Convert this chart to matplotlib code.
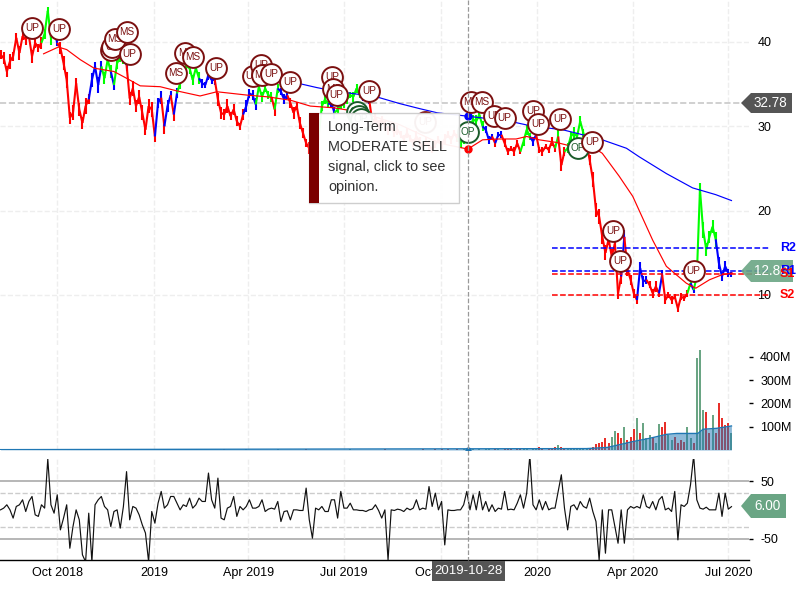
import numpy as np
import pandas as pd
import matplotlib
matplotlib.use('Agg')
import matplotlib.pyplot as plt
import matplotlib.dates as mdates
from matplotlib.patches import Polygon, Rectangle

plt.rcParams['font.family'] = ['Liberation Sans', 'DejaVu Sans']
plt.rcParams['axes.unicode_minus'] = False

START = pd.Timestamp('2018-08-08')

# one close every three calendar days
close = [
    38.5, 38.1, 36.5, 37.7, 38.3, 40.5, 38.7, 40.7, 40.3, 40.7,
    38.3, 39.9, 39.3, 39.9, 41.0, 43.7, 40.5, 41.5, 39.9, 39.3,
    37.5, 35.5, 31.0, 31.6, 35.1, 32.0, 30.4, 32.4, 33.2, 35.5,
    37.1, 34.9, 37.1, 35.7, 37.9, 36.5, 34.9, 37.5, 38.1, 38.0,
    37.3, 33.3, 34.5, 32.4, 33.5, 31.6, 29.6, 32.4, 32.0, 28.8,
    32.8, 33.4, 30.0, 32.4, 33.7, 31.4, 33.9, 35.1, 36.3, 37.1,
    36.9, 35.5, 36.9, 35.7, 35.1, 34.9, 36.1, 35.5, 35.5, 33.2,
    31.6, 31.4, 32.4, 31.2, 32.0, 30.6, 30.0, 31.4, 32.4, 33.9,
    33.7, 32.6, 34.7, 33.5, 34.5, 33.7, 33.5, 32.0, 34.5, 34.1,
    33.2, 33.7, 32.8, 31.6, 32.4, 30.4, 29.2, 28.0, 27.4, 26.8,
    28.0, 29.0, 32.4, 33.2, 32.6, 32.8, 31.6, 32.0, 32.4, 32.8,
    33.2, 33.7, 33.5, 34.5, 33.7, 33.5, 33.7, 33.2, 30.5, 31.0,
    30.2, 30.8, 30.0, 29.5, 30.0, 29.2, 29.6, 29.0, 28.5, 29.2,
    28.6, 28.0, 28.8, 28.2, 27.5, 28.2, 27.8, 27.2, 27.9, 28.4,
    27.8, 28.5, 29.0, 28.4, 29.2, 28.6, 28.0, 28.4, 29.0, 30.0,
    30.8, 30.6, 31.4, 30.0, 29.6, 28.4, 28.8, 28.0, 29.0, 29.0,
    28.0, 27.0, 27.4, 27.0, 28.0, 27.0, 28.2, 29.6, 28.8, 28.2,
    29.0, 27.2, 27.0, 27.6, 27.2, 28.2, 27.4, 28.8, 25.4, 27.0,
    27.4, 28.8, 29.2, 28.8, 30.6, 29.2, 28.0, 26.0, 23.7, 20.1,
    19.3, 16.9, 15.0, 16.6, 14.6, 16.1, 10.2, 12.2, 16.9, 13.0,
    11.8, 10.2, 9.4, 13.2, 11.6, 11.8, 11.2, 10.2, 11.0, 10.2,
    12.4, 9.4, 10.0, 9.4, 9.8, 8.4, 9.8, 9.6, 10.2, 11.4,
    10.6, 12.2, 22.5, 17.7, 15.4, 16.9, 18.1, 16.6, 13.8, 12.2,
    13.4, 12.6, 12.4,
]
# half of each bar's high-low range, read by eye
bar_swing = [
    0.5, 0.7, 0.6, 0.9, 0.5, 0.6, 0.8, 0.5, 0.7, 0.4,
    0.8, 0.6, 0.5, 0.7, 0.6, 0.5, 0.9, 0.6, 0.4, 0.7,
    0.8, 0.9, 0.7, 0.9, 0.6, 0.8, 0.7, 0.9, 0.6, 0.8,
    0.5, 0.9, 0.6, 0.7, 0.5, 0.8, 0.6, 0.7, 0.5, 0.6,
    0.7, 0.8, 0.9, 0.7, 0.8, 0.9, 0.6, 0.8, 0.9, 0.7,
    0.6, 0.8, 0.9, 0.7, 0.5, 0.8, 0.6, 0.7, 0.6, 0.5,
    0.7, 0.6, 0.5, 0.7, 0.5, 0.4, 0.6, 0.5, 0.6, 0.8,
    0.7, 0.6, 0.8, 0.5, 0.7, 0.6, 0.4, 0.6, 0.7, 0.5,
    0.6, 0.7, 0.5, 0.6, 0.4, 0.5, 0.6, 0.8, 0.5, 0.4,
    0.6, 0.5, 0.6, 0.7, 0.5, 0.7, 0.6, 0.5, 0.7, 0.6,
    0.5, 0.6, 0.6, 0.5, 0.4, 0.6, 0.7, 0.5, 0.4, 0.6,
    0.5, 0.4, 0.6, 0.5, 0.4, 0.5, 0.4, 0.5, 0.5, 0.6,
    0.5, 0.4, 0.6, 0.5, 0.4, 0.5, 0.6, 0.4, 0.5, 0.6,
    0.4, 0.5, 0.6, 0.5, 0.4, 0.5, 0.6, 0.4, 0.5, 0.4,
    0.5, 0.6, 0.4, 0.5, 0.4, 0.5, 0.6, 0.5, 0.4, 0.6,
    0.5, 0.7, 0.5, 0.6, 0.4, 0.5, 0.3, 0.4, 0.3, 0.4,
    0.5, 0.4, 0.3, 0.5, 0.4, 0.3, 0.5, 0.6, 0.4, 0.5,
    0.3, 0.4, 0.5, 0.3, 0.4, 0.5, 0.4, 0.8, 0.7, 0.5,
    0.6, 0.5, 0.7, 0.4, 0.6, 0.5, 0.5, 0.6, 0.9, 0.8,
    0.9, 0.8, 0.9, 0.7, 0.9, 0.8, 0.7, 0.9, 0.8, 0.7,
    0.6, 0.5, 0.5, 0.7, 0.6, 0.5, 0.4, 0.5, 0.6, 0.4,
    0.6, 0.5, 0.4, 0.5, 0.3, 0.4, 0.4, 0.3, 0.4, 0.5,
    0.4, 0.6, 0.8, 0.9, 0.8, 0.7, 0.8, 0.9, 0.7, 0.5,
    0.6, 0.5, 0.3,
]
close_state = ("r" * 14 + "g" * 4 + "b" + "r" * 10 + "b" * 4 + "g" * 3 + "b" + "g" * 3 + "b"
               + "r" * 9 + "bb" + "r" + "bb" + "r" + "b" + "g" * 7 + "b" * 5 + "r" * 9 + "b" * 4
               + "g" * 5 + "r" + "g" + "b" * 3 + "r" * 10 + "g" * 3 + "bb" + "g" * 8 + "b" * 3
               + "r" * 28 + "g" * 8 + "b" * 3 + "r" + "bb" + "r" * 6 + "g" * 3 + "bb" + "r" * 6
               + "g" + "rr" + "g" * 7 + "r" * 11 + "b" + "r" * 4 + "b" * 3 + "r" * 4 + "b"
               + "r" * 8 + "g" + "b" + "g" * 7 + "b" * 5)

ma_fast_dates = ['2018-09-18', '2018-10-02', '2018-10-10', '2018-10-23', '2018-11-05', '2018-11-24',
                 '2018-12-06', '2018-12-19', '2019-01-07', '2019-01-23', '2019-02-14', '2019-03-02',
                 '2019-03-31', '2019-04-19', '2019-05-11', '2019-05-30', '2019-06-21', '2019-07-16',
                 '2019-08-23', '2019-09-30', '2019-10-27', '2019-11-10', '2019-11-26', '2019-12-12',
                 '2019-12-22', '2020-01-03', '2020-01-19', '2020-02-04', '2020-02-20', '2020-03-03',
                 '2020-03-19', '2020-04-01', '2020-04-20', '2020-05-03', '2020-05-22', '2020-05-31',
                 '2020-06-13', '2020-06-25', '2020-07-05']
ma_fast = [38.6, 39.4, 39.1, 37.9, 36.9, 36.5, 35.7, 34.8, 34.7, 34.2, 33.6, 34.1, 33.7, 33.5, 33.1,
           32.4, 32.2, 31.7, 30.2, 28.0, 27.3, 28.4, 28.5, 28.5, 28.8, 28.4, 28.1, 27.6, 27.8, 26.8,
           24.1, 21.7, 16.5, 13.4, 11.4, 10.8, 11.8, 12.4, 12.6]

ma_slow_dates = ['2019-05-22', '2019-06-05', '2019-06-21', '2019-08-01', '2019-08-23', '2019-09-11',
                 '2019-09-28', '2019-10-27', '2019-12-06', '2019-12-28', '2020-01-25', '2020-02-07',
                 '2020-03-03', '2020-03-26', '2020-04-07', '2020-05-03', '2020-05-28', '2020-06-19',
                 '2020-07-04']
ma_slow = [35.0, 34.6, 34.2, 33.5, 32.7, 32.1, 31.6, 31.2, 30.6, 30.0, 29.6, 29.2, 28.4, 27.4, 26.4,
           24.4, 22.7, 21.9, 21.2]

# signal bubbles: days after START, price level
up_days = [30, 56, 105, 106, 123, 205, 240, 248, 258, 276, 316, 320, 351, 404, 470, 480, 507, 512,
           533, 563, 583, 590, 660]
up_levels = [41.7, 41.6, 39.0, 39.4, 38.6, 36.9, 36.0, 37.3, 36.2, 35.3, 35.9, 33.7, 34.2, 30.5, 31.2,
             31.0, 31.8, 30.3, 30.9, 28.2, 17.6, 14.0, 12.9]
ms_days = [109, 120, 167, 176, 183, 249, 317, 448, 458]
ms_levels = [40.3, 41.2, 36.3, 38.7, 38.2, 36.1, 34.4, 32.9, 32.9]
op_days = [339, 341, 343, 445, 550]
op_levels = [31.7, 31.2, 30.9, 29.3, 27.4]

levels_blue = {'R2': 15.6, 'R1': 12.8}
levels_red = {'S1': 12.5, 'S2': 10.0}
level_dates = ['2020-01-15', '2020-08-10']
last_close = 32.78

volume_early = [
    2, 1, 3, 1, 2, 4, 2, 1, 2, 3, 1, 2, 4, 1, 2, 3, 5, 2, 1, 2,
    3, 2, 1, 2, 3, 1, 2, 2, 1, 3, 2, 1, 2, 3, 1, 2, 2, 1, 3, 2,
    1, 2, 3, 2, 1, 2, 3, 2, 1, 2, 3, 1, 2, 2, 1, 3, 2, 1, 2, 1,
    2, 1, 3, 2, 1, 2, 2, 1, 2, 1, 2, 3, 1, 2, 1, 2, 1, 2, 3, 1,
    2, 1, 2, 2, 1, 2, 1, 2, 3, 1, 2, 1, 2, 2, 1, 2, 1, 3, 1, 2,
    1, 2, 1, 2, 2, 1, 2, 1, 2, 1, 2, 3, 1, 2, 1, 2, 1, 2, 2, 1,
    2, 1, 3, 1, 2, 1, 2, 1, 2, 2, 1, 2, 1, 2, 3, 1, 2, 2, 3, 2,
    3, 2, 3, 2, 2, 3, 2, 3, 4, 2, 3, 2, 3, 2, 3, 4, 2, 3, 4, 2,
    3, 4, 3, 2, 3, 4, 3, 3, 2, 4, 3, 11, 3, 2, 3, 4, 11, 21, 14, 5,
    6, 4, 5, 6, 4, 5, 4,
]
volume_late = [7, 11, 26, 31, 36, 50, 29, 57, 83, 71, 50, 97, 43, 57, 89, 136, 71, 114, 50, 64, 57,
               29, 111, 97, 121, 64, 43, 57, 29, 43, 36, 97, 50, 29, 393, 429, 172, 164, 71, 150, 71,
               200, 136, 107, 114, 74]
volume_late_state = "rrrrrrrggrrgrrrgrgggrggrrggrrrrggrgggrrgrrrrrg"
vol_ma_days = [0, 558, 578, 602, 618, 634, 644, 664, 669, 682, 696]
vol_ma = [1.5, 6, 11, 36, 50, 67, 71, 71, 89, 93, 103]

oscillator = [
    0.4, 3.4, 9.2, 0.4, -14, 6.3, 9.2, 17.9, -2.5, 15, 23.7, -8.3, -11, 9.2, 3.4, 89, 9.2, -5.4, 26.6,
    -34.5, -14, 9.2, -66.5, -28.7, 0.4, -17, -78, -90, -5.4, -90, 9.2, 17.9, 23.7, 6.3, 0.4, -28.7,
    -2.5, 0.4, -31.5, 6.3, 67, -17, 6.3, 3.4, -8.3, -25.8, -40, -90, -2.5, -22.8, 12, 32.5, 3.4, 9.2,
    23.7, 23.7, 12, 0.4, 9.2, 6.3, 20.8, 3.4, 9.2, 20.8, 15, 15, 64.5, 17.9, 3.4, 55.7, -14, -17, 3.4,
    6.3, 23.7, -11, 6.3, 0.4, 6.3, 17.9, 3.4, 3.4, 6.3, 17.9, -2.5, 1.6, 3.4, 1.6, 15, -20, -2.5, -1.3,
    -17, 0.4, 0.4, -0.7, -0.7, 38.3, -17, -49, 3.4, 0.4, 6.3, -2.5, -2.5, 17.9, 17.9, -14, 32.5, 3.4,
    3.4, 12, 0.4, 0.4, -0.7, -0.7, -2.5, 0.4, 1.6, 9.2, -0.7, -14, 0.4, -87, 0.4, -0.7, 1.6,
    0.4, -2.5, 3.4, 0.4, 3.4, 17.9, 0.4, 3.4, 1.6, 41, 6.3, 29.5, 0.4, 15, -60.7, 0.4, -0.7, -0.7, 0.4,
    0.4, 9.2, 32.5, 0.4, 26.6, 0.4, 32.5, 0.4, 15, -2.5, 9.2, -2.5, 3.4, 1.6, 32.5, 0.4, 1.6, 0.4, 12,
    26.6, 3.4, 29.5, 95, 9.2, 0.4, 17.9, 0.4, 15, 0.4, 3.4, 3.4, 32.5, 61.5, 3.4, -34.5, 6.3, 9.2, 0.4,
    15, 6.3, 3.4, 20.8, -2.5, -20, -87, 0.4, -75.2, 0.4, 0.4, -28.7, -57.8, 0.4, -57.8, 0.4, 6.3, 3.4,
    6.3, 3.4, 26.6, 6.3, 3.4, 15, 0.4, 17.9, 23.7, 0.4, 3.4, -2.5, 32.5, -52, 9.2, 6.3, 12, 44, 95,
    17.9, 3.4, 1.6, 5, 0.4, 0.4, 0.4, 29.5, -11, 29.5, 1.6, 6,
]

month_ticks = ['2018-10-01', '2019-01-01', '2019-04-01', '2019-07-01', '2019-10-01', '2020-01-01',
               '2020-04-01', '2020-07-01']
month_labels = ['Oct 2018', '2019', 'Apr 2019', 'Jul 2019', 'Oct 2019', '2020', 'Apr 2020', 'Jul 2020']
price_ticks = [10, 20, 30, 40]
volume_ticks = [100, 200, 300, 400]
oscillator_ticks = [-50, 50]
cursor_date = '2019-10-28'

STATE_COLOURS = {'r': '#ff0000', 'b': '#0000ff', 'g': '#00ff00'}
VOL_COLOURS = {'r': '#e8302a', 'g': '#6aa584'}
TEXT_RED = '#7b1010'
TEXT_GREEN = '#1a5c2a'


def to_num(dates):
    return mdates.date2num(pd.to_datetime(dates))


def make_axes(fig, top, bottom, x0_num):
    """Axes from pixel rows, 800x600 figure."""
    ax = fig.add_axes([0, 1 - bottom / 600, 749 / 800, (bottom - top) / 600])
    ax.set_xlim(x0_num - 0.5, x0_num + 712.7)
    for side in ['top', 'left', 'right', 'bottom']:
        ax.spines[side].set_visible(False)
    ax.yaxis.tick_right()
    ax.set_xticks(to_num(month_ticks))
    ax.set_xticklabels([])
    ax.tick_params(axis='x', length=0)
    ax.grid(True, axis='x', color='#eeeeee', linestyle='--', linewidth=1)
    ax.patch.set_alpha(0)
    return ax


def draw_signal(ax, day, level, label, colour, base):
    z = 6 + day / 1000
    ax.plot([base + day], [level], 'o', ms=15, mfc='white', mec=colour, mew=1.4, zorder=z, clip_on=False)
    ax.text(base + day, level, label, color=colour, fontsize=7.2, ha='center', va='center',
            zorder=z, clip_on=False)


def plot_price(ax, base):
    dates = base + 3 * np.arange(len(close))
    ax.set_ylim(4.07, 44.98)
    ax.set_yticks(price_ticks)
    ax.tick_params(axis='y', length=0, pad=6, labelsize=9)
    ax.grid(True, axis='y', color='#eeeeee', linestyle='--', linewidth=1)

    for i in range(len(close)):
        colour = STATE_COLOURS[close_state[i]]
        ax.plot([dates[i], dates[i]], [close[i] - bar_swing[i], close[i] + bar_swing[i]],
                color=colour, lw=1.5, solid_capstyle='butt', zorder=3)
        if i > 0:
            ax.plot(dates[i - 1:i + 1], close[i - 1:i + 1], color=colour, lw=1.5,
                    solid_capstyle='butt', zorder=3)

    ax.plot(to_num(ma_fast_dates), ma_fast, color='#ff0000', lw=0.85, zorder=4)
    ax.plot(to_num(ma_slow_dates), ma_slow, color='#0000ff', lw=0.85, zorder=4)
    ax.axhline(last_close, color='#c8c8c8', linestyle='--', lw=1.2, zorder=2)

    lx = to_num(level_dates)
    for lev in levels_blue.values():
        ax.plot(lx, [lev, lev], color='#0000ff', linestyle='--', lw=1.1, zorder=5, clip_on=False)
    for lev in levels_red.values():
        ax.plot(lx, [lev, lev], color='#ff0000', linestyle='--', lw=1.1, zorder=5, clip_on=False)

    cx = to_num([cursor_date])[0] - 1
    ax.plot([cx], [31.2], 'o', color='#0000ff', ms=5, zorder=5)
    ax.plot([cx], [27.3], 'o', color='#ff0000', ms=5, zorder=5)

    for d, p in zip(up_days, up_levels):
        draw_signal(ax, d, p, 'UP', TEXT_RED, base)
    for d, p in zip(ms_days, ms_levels):
        draw_signal(ax, d, p, 'MS', TEXT_RED, base)
    for d, p in zip(op_days, op_levels):
        draw_signal(ax, d, p, 'OP', TEXT_GREEN, base)


def plot_volume(ax, base):
    dates = base + 3 * np.arange(len(volume_early) + len(volume_late))
    ax.set_ylim(0, 429)
    ax.set_yticks(volume_ticks)
    ax.set_yticklabels([f'{v}M' for v in volume_ticks])
    ax.tick_params(axis='y', length=3, width=1, pad=5, labelsize=9)

    early = [VOL_COLOURS['r'] if close_state[i] == 'r' else VOL_COLOURS['g'] for i in range(len(volume_early))]
    late = [VOL_COLOURS[s] for s in volume_late_state]
    ax.bar(dates, volume_early + volume_late, width=1.9, color=early + late, zorder=2)

    ma_x = base + np.array(vol_ma_days)
    ax.fill_between(ma_x, 0, vol_ma, color='#1f77b4', alpha=0.5, lw=0, zorder=3)
    ax.plot(ma_x, vol_ma, color='#1f77b4', lw=1, zorder=4)
    ax.plot([to_num([cursor_date])[0] - 1], [2], 'o', color='#1f77b4', ms=3.5, zorder=5)


def plot_oscillator(ax, base):
    dates = base + 3 * np.arange(len(oscillator))
    ax.set_ylim(-87, 89)
    ax.set_yticks(oscillator_ticks)
    ax.tick_params(axis='y', length=3, width=1, pad=5, labelsize=9)
    ax.axhline(50, color='#aaaaaa', lw=1.2, zorder=1)
    ax.axhline(-50, color='#aaaaaa', lw=1.2, zorder=1)
    ax.axhline(30, color='#cccccc', lw=1, linestyle='--', zorder=1)
    ax.axhline(-30, color='#cccccc', lw=1, linestyle='--', zorder=1)
    ax.plot(dates, oscillator, color='#111111', lw=0.85, zorder=3)

    ax.spines['bottom'].set_visible(True)
    ax.spines['bottom'].set_linewidth(1)
    ax.set_xticklabels(month_labels)
    ax.tick_params(axis='x', labelsize=9, pad=5)


def price_tag(ov, x0, x1, y0, y1, colour, text, alpha=1.0):
    mid = (y0 + y1) / 2
    ov.add_patch(Polygon([(x0, mid), (x0 + 10, y0), (x1, y0), (x1, y1), (x0 + 10, y1)],
                         closed=True, fc=colour, ec='none', alpha=alpha, zorder=5))
    ov.text(x0 + 13, mid, text, color='white', fontsize=9.75, va='center', ha='left', zorder=6)


def plot_overlay(ov, ax_price):
    ov.set_xlim(0, 800)
    ov.set_ylim(600, 0)
    ov.axis('off')

    # crosshair and date box
    ov.plot([468, 468], [0, 560], color='#999999', lw=0.9, linestyle='--', zorder=1)
    ov.add_patch(Rectangle((432, 561), 73, 20, fc='#555555', ec='none', zorder=5))
    ov.text(468.5, 570.5, cursor_date, color='white', fontsize=9.5, ha='center', va='center', zorder=6)

    # tooltip
    ov.add_patch(Rectangle((309, 113), 150, 90, fc='white', ec='#cccccc', lw=1, alpha=0.95, zorder=3))
    ov.add_patch(Rectangle((309, 113), 10, 90, fc='#7b0000', ec='none', zorder=4))
    for row, line in enumerate(['Long-Term', 'MODERATE SELL', 'signal, click to see', 'opinion.']):
        ov.text(328, 127 + 20 * row, line, color='#333333', fontsize=10.4, va='center', ha='left', zorder=4)

    price_tag(ov, 741, 792, 93, 113, '#555555', '32.78')
    price_tag(ov, 741, 793, 260, 282, '#6aa584', '12.80', alpha=0.9)
    price_tag(ov, 741, 786, 494, 518, '#6aa584', '6.00')

    # level names sit on top of the green tag
    tf = ax_price.get_yaxis_transform()
    for name, lev in levels_blue.items():
        ov.text(1.041, lev, name, transform=tf, color='#0000ff', fontsize=9, fontweight='bold',
                va='center', ha='left', zorder=7)
    for name, lev in levels_red.items():
        ov.text(1.041, lev, name, transform=tf, color='#ff0000', fontsize=9, fontweight='bold',
                va='center', ha='left', zorder=7)


def main():
    fig = plt.figure(figsize=(8, 6), dpi=100)
    base = mdates.date2num(START)

    ax_price = make_axes(fig, 0, 345, base)
    ax_volume = make_axes(fig, 350, 450, base)
    ax_osc = make_axes(fig, 459, 560, base)

    plot_price(ax_price, base)
    plot_volume(ax_volume, base)
    plot_oscillator(ax_osc, base)

    ov = fig.add_axes([0, 0, 1, 1], zorder=10)
    ov.patch.set_alpha(0)
    plot_overlay(ov, ax_price)

    fig.savefig('out.png', dpi=100)
    plt.close(fig)


if __name__ == '__main__':
    main()
